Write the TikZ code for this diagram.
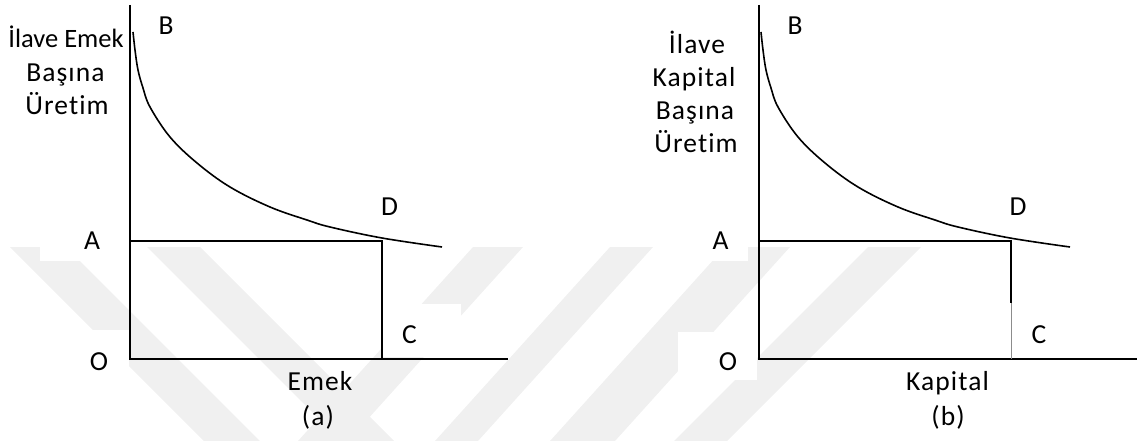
\documentclass[tikz,border=0pt]{standalone}
\usepackage{fontspec}
\setmainfont{Carlito}[Ligatures=NoCommon]
\begin{document}
\begin{tikzpicture}[x=1pt,y=-1pt,
  lbl/.style={font=\fontsize{27.5}{32}\selectfont\addfontfeature{LetterSpace=4}, inner sep=0pt, anchor=base},
  lbltight/.style={font=\fontsize{26.5}{32}\selectfont, inner sep=0pt, anchor=base},
  axisline/.style={line width=2.2pt},
  guide/.style={line width=2.4pt},
  guidethin/.style={line width=1.5pt},
  mpcurve/.style={line width=1.6pt},
  wm/.style={fill=black!6},
  occ/.style={fill=white}]
\useasboundingbox (0,0) rectangle (1138,441);
% faint watermark bands
\fill[wm] (10,247) -- (66,247) -- (260,441) -- (204,441) -- cycle;
\fill[wm] (147,247) -- (200,247) -- (394,441) -- (341,441) -- cycle;
\fill[wm] (473,247) -- (523,247) -- (348,441) -- (298,441) -- cycle;
\fill[wm] (610,247) -- (653,247) -- (478,441) -- (435,441) -- cycle;
\fill[wm] (725,247) -- (790,247) -- (615,441) -- (550,441) -- cycle;
\fill[wm] (868,247) -- (921,247) -- (727,441) -- (674,441) -- cycle;
% white label boxes over the watermark
\fill[occ] (40,228) rectangle (129,261);
\fill[occ] (60,330) rectangle (129,380);
\fill[occ] (383,304) rectangle (461,357);
\fill[occ] (680,228) rectangle (748,261);
\fill[occ] (678,332) rectangle (757,380);

% ---------- panel (a) ----------
\coordinate (aO) at (130,359);
\coordinate (aTop) at (130,5);
\coordinate (aEnd) at (508,359);
\coordinate (aA) at (130,241);
\coordinate (aD) at (382,241);
\coordinate (aM) at (382,303);
\coordinate (aC) at (382,359);
\draw[axisline] (aTop) -- (aO) -- (aEnd);
\draw[guide] (aA) -- (aD) -- (aM);
\draw[guidethin] (aM) -- (aC);
\draw[mpcurve] plot[smooth, tension=0.6] coordinates {(133,32) (135,50) (138,70) (143,88) (150,107) (170,137) (197,163) (230,187) (270,207) (307,220) (330,227) (382,238) (442,247)};

\node[lbltight] (ay1) at (66,48) {İlave Emek};
\node[lbl] (ay2) at (65.5,82) {Başına};
\node[lbl] (ay3) at (67,115) {Üretim};
\node[lbl] (aBl) at (166,35) {B};
\node[lbl] (aDl) at (389.5,215) {D};
\node[lbl] (aAl) at (92,249) {A};
\node[lbl] (aCl) at (409.5,343) {C};
\node[lbl] (aOl) at (99,370) {O};
\node[lbl] (ax) at (320,390) {Emek};
\node[lbl] (acap) at (318,425) {(a)};

% ---------- panel (b) ----------
\coordinate (bO) at (759,359);
\coordinate (bTop) at (759,5);
\coordinate (bEnd) at (1137,359);
\coordinate (bA) at (759,241);
\coordinate (bD) at (1011,241);
\coordinate (bM) at (1011,303);
\coordinate (bC) at (1011,359);
\draw[axisline] (bTop) -- (bO) -- (bEnd);
\draw[line width=2pt] (bA) -- (bD) -- (bM);
\draw[line width=0.8pt, black!45] (bM) -- (bC);
\begin{scope}[xshift=628pt]
\draw[mpcurve] plot[smooth, tension=0.6] coordinates {(133,32) (135,50) (138,70) (143,88) (150,107) (170,137) (197,163) (230,187) (270,207) (307,220) (330,227) (382,238) (442,247)};
\end{scope}

\node[lbl] (by1) at (697,54) {İlave};
\node[lbl] (by2) at (694,87) {Kapital};
\node[lbl] (by3) at (695,120) {Başına};
\node[lbl] (by4) at (696,153) {Üretim};
\node[lbl] (bBl) at (795,35) {B};
\node[lbl] (bDl) at (1018,215) {D};
\node[lbl] (bAl) at (720.5,249) {A};
\node[lbl] (bCl) at (1039,343) {C};
\node[lbl] (bOl) at (728,370) {O};
\node[lbl] (bx) at (947.5,390) {Kapital};
\node[lbl] (bcap) at (948,425) {(b)};
\end{tikzpicture}
\end{document}
